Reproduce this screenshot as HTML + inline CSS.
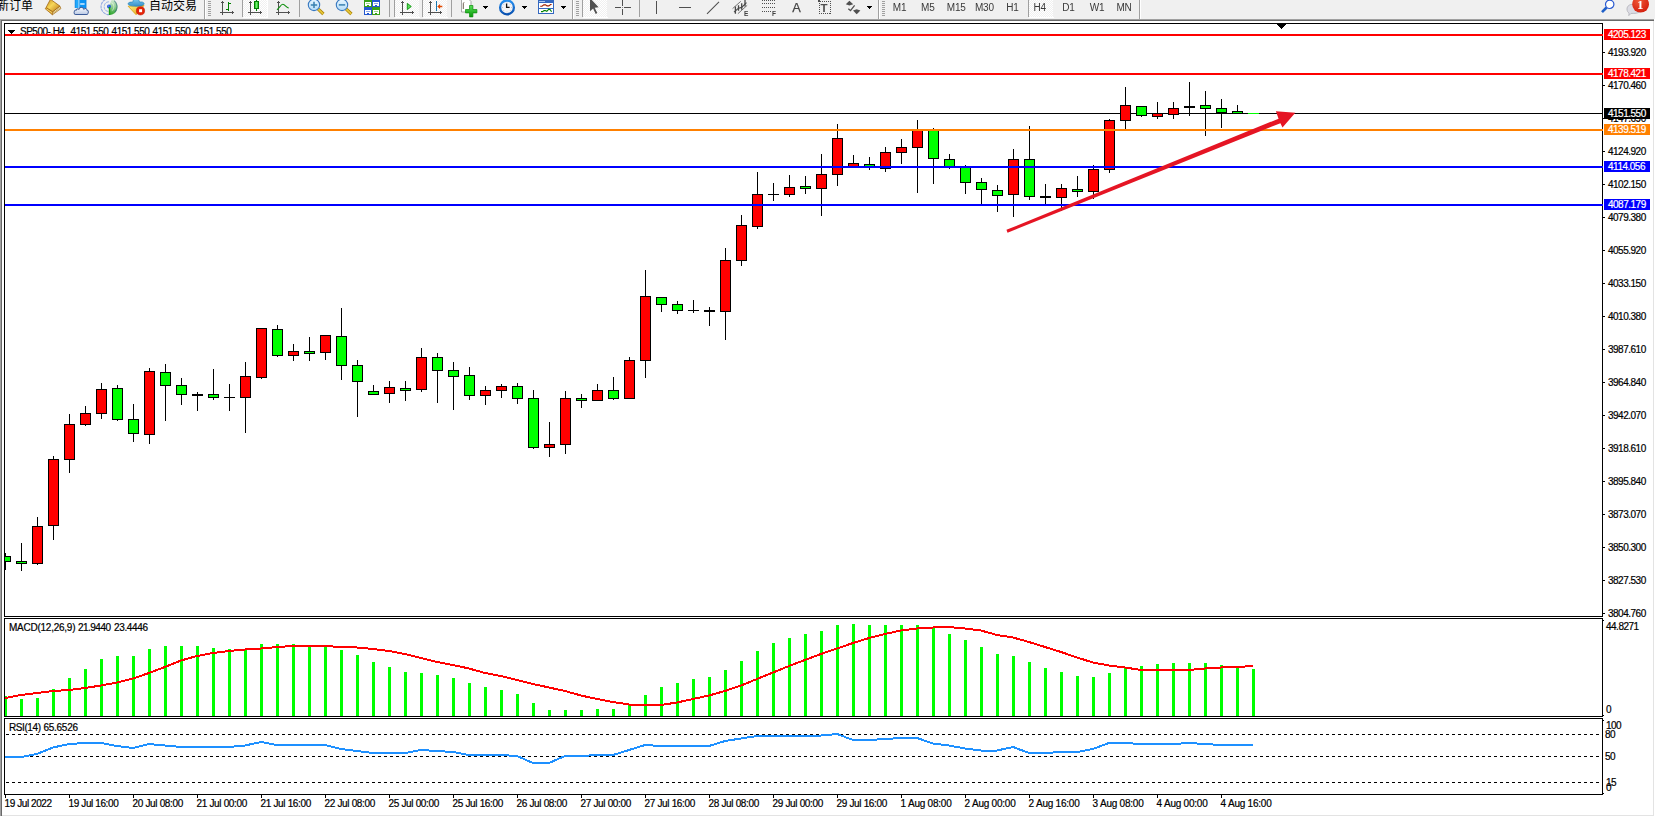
<!DOCTYPE html>
<html lang="zh-CN"><head><meta charset="utf-8"><title>SP500-,H4</title>
<style>
html,body{margin:0;padding:0;background:#fff}
body{width:1655px;height:817px;overflow:hidden;position:relative}
svg{position:absolute;left:0;top:0;display:block}
text{font-family:"Liberation Sans","Noto Sans CJK SC",sans-serif}
.t{font-size:10px;letter-spacing:-0.5px;fill:#000;stroke:#000;stroke-width:.2px}
.w{fill:#fff;stroke:#fff}
.cj{font-size:12px;fill:#000}
.tf{font-size:10px;fill:#3a3a3a;text-anchor:middle;letter-spacing:-0.2px}
</style></head><body>
<svg width="1655" height="817" viewBox="0 0 1655 817">
<rect x="0" y="0" width="1655" height="19" fill="#F0F0F0"/>
<defs>
<pattern id="dz" width="2" height="2" patternUnits="userSpaceOnUse"><rect width="2" height="2" fill="#F0F0F0"/><rect width="1" height="1" fill="#fff"/><rect x="1" y="1" width="1" height="1" fill="#fff"/></pattern>
<linearGradient id="gold" x1="0" y1="0" x2="1" y2="1"><stop offset="0" stop-color="#C89018"/><stop offset=".45" stop-color="#F7D658"/><stop offset="1" stop-color="#B87414"/></linearGradient>
<linearGradient id="cloud" x1="0" y1="0" x2="0" y2="1"><stop offset="0" stop-color="#FFFFFF"/><stop offset="1" stop-color="#B8C8E4"/></linearGradient>
<linearGradient id="lens" x1="0" y1="0" x2="0" y2="1"><stop offset="0" stop-color="#E8F6FF"/><stop offset="1" stop-color="#B4DCF8"/></linearGradient>
<linearGradient id="gplus" x1="0" y1="0" x2="0" y2="1"><stop offset="0" stop-color="#58E058"/><stop offset="1" stop-color="#089808"/></linearGradient>
<linearGradient id="gcan" x1="0" y1="0" x2="1" y2="0"><stop offset="0" stop-color="#20C020"/><stop offset=".5" stop-color="#70F070"/><stop offset="1" stop-color="#20C020"/></linearGradient>
<radialGradient id="badge" cx=".4" cy=".3" r=".8"><stop offset="0" stop-color="#F05838"/><stop offset="1" stop-color="#D01808"/></radialGradient>
<linearGradient id="hat" x1="0" y1="0" x2="0" y2="1"><stop offset="0" stop-color="#78C8F0"/><stop offset="1" stop-color="#3890C8"/></linearGradient>
<linearGradient id="ylw" x1="0" y1="0" x2="1" y2="1"><stop offset="0" stop-color="#FFF080"/><stop offset="1" stop-color="#E0A010"/></linearGradient>
<linearGradient id="clk" x1="0" y1="0" x2="0" y2="1"><stop offset="0" stop-color="#2890F0"/><stop offset="1" stop-color="#0850B0"/></linearGradient>
<g id="grip" shape-rendering="crispEdges" fill="#A0A0A0"><rect y="1" width="3" height="1"/><rect y="3" width="3" height="1"/><rect y="5" width="3" height="1"/><rect y="7" width="3" height="1"/><rect y="9" width="3" height="1"/><rect y="11" width="3" height="1"/><rect y="13" width="3" height="1"/><rect y="15" width="3" height="1"/></g>
<g id="axes" shape-rendering="crispEdges" fill="#505050"><rect x="2" y="2" width="1" height="13"/><rect x="1" y="2" width="3" height="1"/><rect x="2" y="1" width="1" height="1"/><rect x="0" y="12" width="14" height="1"/><rect x="12" y="11" width="1" height="3"/></g>
<g id="dd" shape-rendering="crispEdges" fill="#000"><rect x="0" y="6" width="5" height="1"/><rect x="1" y="7" width="3" height="1"/><rect x="2" y="8" width="1" height="1"/></g>
<filter id="gs" color-interpolation-filters="sRGB"><feColorMatrix type="saturate" values="0"/></filter>
<linearGradient id="rgreen" x1="0" y1="1" x2="0" y2="0"><stop offset="0" stop-color="#2CA42C"/><stop offset=".45" stop-color="#84C884"/><stop offset="1" stop-color="#DCEEDC"/></linearGradient>
</defs>
<!-- text buttons -->
<text x="-3" y="10.1" class="cj">新订单</text>
<text x="148.9" y="9.9" class="cj">自动交易</text>
<!-- book -->
<path d="M45.200 8.700L46.100 7.500L52.700 11.700L52.400 14.800Z" fill="#D8A020" stroke="#A06410" stroke-width=".7"/>
<path d="M52.700 11.700L59.900 6.100L60.900 8.600L52.400 14.800Z" fill="#EFE4B4" stroke="#A06410" stroke-width=".7"/>
<path d="M53 13.200L60.300 7.600" stroke="#B88828" stroke-width=".6"/>
<path d="M50.600 -1L52 .400L59.900 6.100L52.700 11.700L46.100 7.500Z" fill="url(#gold)" stroke="#A06410" stroke-width=".8"/>
<path d="M46.400 8.900L52.300 12.800" stroke="#FFE890" stroke-width=".7"/>
<!-- server + cloud -->
<path d="M75.100 -1h11v9h-11z" fill="#0C94F4"/>
<path d="M75.100 -1h3.700v9h-3.700z" fill="#22A8FA"/>
<path d="M78.900 -1v9" stroke="#D8F0FF" stroke-width=".8"/>
<rect x="80.200" y="3.300" width="4.400" height="1.400" fill="#E4F4FF"/>
<path d="M75.100 -1v9M86.100 -1v9" stroke="#0878D8" stroke-width=".6"/>
<path d="M75.500 14.600C73.400 14.600 72.800 12.600 73.600 11.400C74.200 10.200 75.400 10 75.800 10.200C76 9 77.600 8.600 78.600 9.400C79.200 7.600 81.400 6.800 83 8C83.600 8.400 84 9 84.200 9.400C85.200 8.200 87.400 8.400 87.600 10.200C89 10.400 89.600 12 88.800 13.400C88.400 14.200 87.600 14.600 86.800 14.600Z" fill="url(#cloud)" stroke="#3A5A98" stroke-width="1" transform="translate(81.200 -.300) scale(.900 1.020) translate(-81.200 0)"/>
<!-- radio / signals -->
<path d="M109.050 6.700V15A8.200 8.200 0 0 0 111.850 -1Z" fill="url(#rgreen)"/>
<g fill="none" stroke-width="1.100">
<path d="M109.050 -1.300a8 8 0 0 0 0 16" stroke="#5078D8" stroke-opacity=".6" stroke-dasharray="3 .7"/>
<path d="M109.050 1.800a4.900 4.900 0 0 0 0 9.800" stroke="#6890E0" stroke-opacity=".55" stroke-dasharray="3 .7"/>
<path d="M114.200 .600A8 8 0 0 1 114.700 12.300" stroke="#2C6878" stroke-opacity=".6"/>
<path d="M111.500 2.500A4.900 4.900 0 0 1 112 10.600" stroke="#FFFFFF" stroke-opacity=".45"/>
</g>
<circle cx="109" cy="6.600" r="2" fill="#2458D4"/><circle cx="108.600" cy="6.100" r=".8" fill="#5C8CEC"/>
<path d="M109.500 7V15" stroke="#16A016" stroke-width="1.400"/>
<!-- auto trading -->
<path d="M128.100 6.200L144 5.500L136.100 14.700Z" fill="url(#ylw)" stroke="#D8A010" stroke-width=".8"/>
<path d="M128.100 3.800C128.100 2.200 131 1.900 132.600 2.200C133.200 1 133.400 -.200 133.600 -1h5c.2 .800 .4 2 1 3.100C141.400 1.700 144.100 2.100 144.100 3.700C144.100 5.400 140.500 6.200 136.100 6.200C131.700 6.200 128.100 5.400 128.100 3.800Z" fill="url(#hat)" stroke="#2484BC" stroke-width=".7"/>
<circle cx="140.500" cy="10.800" r="4.100" fill="#E42408" stroke="#C01404" stroke-width=".6"/><rect x="139.100" y="9.200" width="3" height="3" fill="#fff"/>
<g shape-rendering="crispEdges">
<!-- separators -->
<rect x="204" y="0" width="1" height="19" fill="#A0A0A0"/><rect x="205" y="0" width="1" height="19" fill="#fff"/>
<rect x="242" y="0" width="1" height="17" fill="#A0A0A0"/>
<rect x="243" y="0" width="24" height="17" fill="url(#dz)"/><rect x="243" y="17" width="25" height="1" fill="#fff"/><rect x="267" y="0" width="1" height="17" fill="#fff"/>
<rect x="299" y="0" width="1" height="17" fill="#A0A0A0"/>
<rect x="389" y="0" width="1" height="17" fill="#A0A0A0"/><rect x="394" y="0" width="1" height="17" fill="#A0A0A0"/>
<rect x="395" y="0" width="24" height="17" fill="url(#dz)"/><rect x="395" y="17" width="25" height="1" fill="#fff"/>
<rect x="422" y="0" width="1" height="17" fill="#A0A0A0"/>
<rect x="423" y="0" width="24" height="17" fill="url(#dz)"/><rect x="423" y="17" width="25" height="1" fill="#fff"/>
<rect x="451" y="0" width="1" height="17" fill="#A0A0A0"/>
<rect x="572" y="0" width="1" height="19" fill="#A0A0A0"/><rect x="573" y="0" width="1" height="19" fill="#fff"/>
<rect x="582" y="0" width="1" height="17" fill="#A0A0A0"/>
<rect x="583" y="0" width="24" height="17" fill="url(#dz)"/><rect x="583" y="17" width="25" height="1" fill="#fff"/>
<rect x="639" y="0" width="1" height="17" fill="#A0A0A0"/>
<rect x="878" y="0" width="1" height="19" fill="#A0A0A0"/><rect x="879" y="0" width="1" height="19" fill="#fff"/>
<rect x="1028" y="0" width="1" height="17" fill="#A0A0A0"/>
<rect x="1029" y="0" width="24" height="17" fill="url(#dz)"/><rect x="1029" y="17" width="25" height="1" fill="#fff"/>
<rect x="1139" y="0" width="1" height="19" fill="#A0A0A0"/><rect x="1140" y="0" width="1" height="19" fill="#fff"/>
</g>
<use href="#grip" x="208"/><use href="#grip" x="576"/><use href="#grip" x="882"/>
<!-- chart type icons -->
<use href="#axes" x="220"/>
<g shape-rendering="crispEdges" fill="#008000"><rect x="228" y="2" width="1" height="9"/><rect x="229" y="3" width="2" height="1"/><rect x="226" y="9" width="2" height="1"/></g>
<use href="#axes" x="248"/>
<g shape-rendering="crispEdges"><rect x="256" y="0" width="1" height="11" fill="#008000"/><rect x="254" y="1" width="5" height="8" fill="#008000"/><rect x="255" y="2" width="3" height="6" fill="url(#gcan)"/></g>
<use href="#axes" x="276"/>
<path d="M277 9.800C279.500 8 280.800 4.300 282.800 4.300C285 4.300 286.500 8 288.800 8" fill="none" stroke="#109010" stroke-width="1.100"/>
<!-- zoom in/out -->
<path d="M318 8.800l5.400 5.200" stroke="#A88008" stroke-width="3.200"/><path d="M318 8.800l5.200 5" stroke="#E8C838" stroke-width="1.800"/>
<circle cx="314" cy="4.900" r="5.700" fill="url(#lens)" stroke="#3878C0" stroke-width="1.100"/>
<path d="M310.800 4.900h6.400M314 1.700v6.400" stroke="#3880B0" stroke-width="1.500"/>
<path d="M346 8.800l5.400 5.200" stroke="#A88008" stroke-width="3.200"/><path d="M346 8.800l5.200 5" stroke="#E8C838" stroke-width="1.800"/>
<circle cx="342" cy="4.900" r="5.700" fill="url(#lens)" stroke="#3878C0" stroke-width="1.100"/>
<path d="M338.800 4.900h6.400" stroke="#3880B0" stroke-width="1.500"/>
<!-- tile windows -->
<g shape-rendering="crispEdges">
<rect x="364" y="-1" width="8" height="8" fill="#38A018"/><rect x="372" y="-1" width="8" height="8" fill="#2458D0"/>
<rect x="364" y="7" width="8" height="8" fill="#2458D0"/><rect x="372" y="7" width="8" height="8" fill="#38A018"/>
<rect x="365" y="2" width="6" height="4" fill="#fff"/><rect x="373" y="2" width="6" height="4" fill="#fff"/><rect x="365" y="10" width="6" height="4" fill="#fff"/><rect x="373" y="10" width="6" height="4" fill="#fff"/>
<rect x="366" y="3" width="4" height="1" fill="#A0D890"/><rect x="374" y="3" width="4" height="1" fill="#90A8E8"/><rect x="366" y="11" width="4" height="1" fill="#90A8E8"/><rect x="374" y="11" width="4" height="1" fill="#A0D890"/>
<rect x="367" y="5" width="2" height="1" fill="#38A018"/><rect x="375" y="5" width="2" height="1" fill="#2458D0"/><rect x="367" y="13" width="2" height="1" fill="#2458D0"/><rect x="375" y="13" width="2" height="1" fill="#38A018"/>
</g>
<!-- autoscroll / shift -->
<use href="#axes" x="400"/>
<path d="M407.300 3.400L411.300 6.500L407.300 9.600Z" fill="#58E058" stroke="#089008" stroke-width=".9"/>
<use href="#axes" x="428"/>
<rect x="436" y="1" width="1" height="10" fill="#1878B0" shape-rendering="crispEdges"/>
<path d="M437.300 6.500l2.800-2.400v1.700h2.200v1.400h-2.200v1.700z" fill="#E04800"/>
<!-- new chart -->
<path d="M461.500 -1v13h9.500v-10.500l-2.500-2.500z" fill="#fff" stroke="#A0A0A0" stroke-width=".9"/>
<path d="M464.300 2.500c-.8 0-1 .5-1 1.500v5" stroke="#605040" stroke-width=".9" fill="none"/>
<path d="M469.500 5.500h3.400v4h4v3.400h-4v4h-3.400v-4h-4v-3.400h4z" fill="url(#gplus)" stroke="#0C8C0C" stroke-width=".7"/>
<use href="#dd" x="483"/>
<!-- clock -->
<rect x="503.500" y="-1" width="7" height="2.500" rx="1" fill="#2890F0"/>
<circle cx="507" cy="7.400" r="6.900" fill="#F4F4F6" stroke="url(#clk)" stroke-width="2.300"/>
<path d="M506.600 3.600v3.800h3" stroke="#101010" stroke-width="1.300" fill="none"/>
<g fill="#8088A0"><circle cx="507" cy="2.900" r=".45"/><circle cx="511.500" cy="7.400" r=".45"/><circle cx="502.500" cy="7.400" r=".45"/><circle cx="507" cy="11.900" r=".45"/><circle cx="503.800" cy="4.200" r=".4"/><circle cx="510.200" cy="4.200" r=".4"/><circle cx="503.800" cy="10.600" r=".4"/><circle cx="510.200" cy="10.600" r=".4"/></g>
<use href="#dd" x="522"/>
<!-- templates -->
<g shape-rendering="crispEdges"><rect x="538" y="-1" width="16" height="15" fill="#3468C0"/><rect x="539" y="3" width="14" height="5" fill="#fff"/><rect x="539" y="9" width="14" height="4" fill="#fff"/><rect x="539" y="1" width="6" height="1" fill="#A8C8F0"/></g>
<path d="M540.200 6.300h1.800l1.800-1.400h1.800l1.400 1h1.800l1.800-1.400h1" stroke="#A02000" stroke-width="1.100" fill="none"/>
<path d="M541 11.600h1.600l1.400-1h1.400l1.400.8l2-2.200l1.400.6l1.400 2" stroke="#008000" stroke-width="1.100" fill="none"/>
<use href="#dd" x="561"/>
<!-- cursor -->
<path d="M590 -2V11.200L593.100 8.400L595.700 13.900L597.300 13.100L594.700 7.700L598.600 7.300Z" fill="#505050"/>
<!-- crosshair -->
<g shape-rendering="crispEdges" fill="#505050"><rect x="622" y="0" width="1" height="6"/><rect x="622" y="9" width="1" height="6"/><rect x="615" y="7" width="6" height="1"/><rect x="624" y="7" width="7" height="1"/><rect x="622" y="7" width="1" height="1" fill="#909090"/></g>
<!-- vline, hline, trendline -->
<g shape-rendering="crispEdges" fill="#505050"><rect x="656" y="1" width="1" height="13"/><rect x="679" y="7" width="12" height="1"/></g>
<path d="M707 13.800L719 1.900" stroke="#505050" stroke-width="1.100"/>
<!-- channel -->
<g stroke="#484848" fill="none"><path d="M732.600 8.600L740.800 1.300" stroke-width=".9" stroke="#686868"/><path d="M737.900 13.700L747.200 5.300" stroke-width=".9" stroke="#686868"/><path d="M734 12.200L738.500 8.200L741.700 7.400L746.500 2.600" stroke-width="1.100"/><path d="M735.400 6.400v7.400M738.500 5.300v5.400M741.700 3.300v6.400M745 0v6.400" stroke-width="1.300"/></g>
<text filter="url(#gs)" x="744" y="15.500" style="font-size:6.500px;font-weight:bold;fill:#404040">E</text>
<!-- fibo -->
<g stroke="#505050" stroke-width="1" stroke-dasharray="1 1" shape-rendering="crispEdges"><path d="M762 .500h14M762 3.500h14M762 7.500h14M762 11.500h9"/></g>
<text filter="url(#gs)" x="772" y="15.500" style="font-size:6.500px;font-weight:bold;fill:#404040">F</text>
<!-- A, T -->
<text filter="url(#gs)" x="792.300" y="12" style="font-size:12.800px;fill:#444;stroke:#444;stroke-width:.25px">A</text>
<rect x="819.500" y="1.500" width="11" height="12" fill="none" stroke="#505050" stroke-width="1" stroke-dasharray="1 1" shape-rendering="crispEdges"/>
<rect x="818" y="0" width="2" height="2" fill="#505050" shape-rendering="crispEdges"/>
<text filter="url(#gs)" x="820.600" y="12" style="font-size:11.500px;font-weight:bold;fill:#505050">T</text>
<!-- arrows -->
<path d="M849.400 .800L853.200 4.200L849.400 5.600L845.800 4.200Z" fill="#505050"/>
<path d="M848.300 8.800L850.500 10.600L854.600 5.400" fill="none" stroke="#505050" stroke-width="1.300"/>
<path d="M856.700 14.200L853 10.600L856.700 9.200L860.400 10.600Z" fill="#505050"/>
<use href="#dd" x="867"/>
<!-- timeframes -->
<g filter="url(#gs)"><text x="899.500" y="11" class="tf">M1</text><text x="927.800" y="11" class="tf">M5</text><text x="956.300" y="11" class="tf">M15</text><text x="984.400" y="11" class="tf">M30</text><text x="1012.500" y="11" class="tf">H1</text><text x="1039.700" y="11" class="tf">H4</text><text x="1068.400" y="11" class="tf">D1</text><text x="1097" y="11" class="tf">W1</text><text x="1124" y="11" class="tf">MN</text></g>
<!-- search -->
<path d="M1606.600 7.500L1602 12.200" stroke="#2060C8" stroke-width="2.600"/>
<circle cx="1609.700" cy="4.300" r="4.200" fill="#fff" stroke="#2858D0" stroke-width="1.200"/>
<!-- chat + badge -->
<path d="M1627 9c0-3 2.500-4.800 6.500-4.800h7v6c0 2-3 3.200-7 3.200h-2.500l-2.200 2.200l.3-2.600c-1.400-.8-2.100-2-2.100-4z" fill="#DCDCE4" stroke="#B0B0B8" stroke-width=".8"/>
<circle cx="1640.600" cy="4.200" r="8.400" fill="url(#badge)"/>
<text filter="url(#gs)" x="1636.900" y="9" style="font-family:'Liberation Serif',serif;font-size:13px;font-weight:bold;fill:#fff">1</text>

<g shape-rendering="crispEdges">
<rect x="0" y="19" width="1654" height="1" fill="#A0A0A0"/>
<rect x="0" y="20" width="1654" height="1" fill="#696969"/>
<rect x="0" y="19" width="1" height="797" fill="#A0A0A0"/>
<rect x="1" y="20" width="1" height="796" fill="#696969"/>
<rect x="2" y="815" width="1652" height="1" fill="#E3E3E3"/>
<rect x="1653" y="21" width="1" height="795" fill="#E3E3E3"/>
<rect x="4" y="23" width="1599" height="1" fill="#000"/>
<rect x="4" y="23" width="1" height="772" fill="#000"/>
<rect x="1602" y="23" width="1" height="772" fill="#000"/>
<rect x="4" y="616" width="1599" height="1" fill="#000"/>
<rect x="4" y="618" width="1599" height="1" fill="#000"/>
<rect x="4" y="716" width="1599" height="1" fill="#000"/>
<rect x="4" y="718" width="1599" height="1" fill="#000"/>
<rect x="4" y="794" width="1599" height="1" fill="#000"/>
<rect x="5" y="617" width="1597" height="1" fill="#fff"/>
<rect x="5" y="717" width="1597" height="1" fill="#fff"/>
<rect x="1602" y="617" width="1" height="1" fill="#fff"/>
<rect x="1602" y="717" width="1" height="1" fill="#fff"/>
<rect x="4" y="617" width="1" height="1" fill="#fff"/>
<rect x="4" y="717" width="1" height="1" fill="#fff"/>
<rect x="1603" y="52" width="2" height="1" fill="#000"/>
<rect x="1603" y="85" width="2" height="1" fill="#000"/>
<rect x="1603" y="118" width="2" height="1" fill="#000"/>
<rect x="1603" y="151" width="2" height="1" fill="#000"/>
<rect x="1603" y="184" width="2" height="1" fill="#000"/>
<rect x="1603" y="217" width="2" height="1" fill="#000"/>
<rect x="1603" y="250" width="2" height="1" fill="#000"/>
<rect x="1603" y="283" width="2" height="1" fill="#000"/>
<rect x="1603" y="316" width="2" height="1" fill="#000"/>
<rect x="1603" y="349" width="2" height="1" fill="#000"/>
<rect x="1603" y="382" width="2" height="1" fill="#000"/>
<rect x="1603" y="415" width="2" height="1" fill="#000"/>
<rect x="1603" y="448" width="2" height="1" fill="#000"/>
<rect x="1603" y="481" width="2" height="1" fill="#000"/>
<rect x="1603" y="514" width="2" height="1" fill="#000"/>
<rect x="1603" y="547" width="2" height="1" fill="#000"/>
<rect x="1603" y="580" width="2" height="1" fill="#000"/>
<rect x="1603" y="613" width="2" height="1" fill="#000"/>
<rect x="1603" y="620" width="1" height="1" fill="#000"/>
<rect x="1603" y="715" width="1" height="1" fill="#000"/>
<rect x="1603" y="720" width="1" height="1" fill="#000"/>
<rect x="1603" y="793" width="1" height="1" fill="#000"/>
<rect x="5" y="795" width="1" height="3" fill="#000"/>
<rect x="69" y="795" width="1" height="3" fill="#000"/>
<rect x="133" y="795" width="1" height="3" fill="#000"/>
<rect x="197" y="795" width="1" height="3" fill="#000"/>
<rect x="261" y="795" width="1" height="3" fill="#000"/>
<rect x="325" y="795" width="1" height="3" fill="#000"/>
<rect x="389" y="795" width="1" height="3" fill="#000"/>
<rect x="453" y="795" width="1" height="3" fill="#000"/>
<rect x="517" y="795" width="1" height="3" fill="#000"/>
<rect x="581" y="795" width="1" height="3" fill="#000"/>
<rect x="645" y="795" width="1" height="3" fill="#000"/>
<rect x="709" y="795" width="1" height="3" fill="#000"/>
<rect x="773" y="795" width="1" height="3" fill="#000"/>
<rect x="837" y="795" width="1" height="3" fill="#000"/>
<rect x="901" y="795" width="1" height="3" fill="#000"/>
<rect x="965" y="795" width="1" height="3" fill="#000"/>
<rect x="1029" y="795" width="1" height="3" fill="#000"/>
<rect x="1093" y="795" width="1" height="3" fill="#000"/>
<rect x="1157" y="795" width="1" height="3" fill="#000"/>
<rect x="1221" y="795" width="1" height="3" fill="#000"/>
<rect x="5" y="113" width="1597" height="1" fill="#000"/>
</g>
<path d="M8 30h7l-3.5 4z" fill="#000" shape-rendering="crispEdges"/>
<clipPath id="tc"><rect x="5" y="24" width="400" height="11"/></clipPath>
<text y="35.3" class="t" clip-path="url(#tc)"><tspan x="20">SP500-,H4</tspan> <tspan x="70.6">4151.550</tspan> <tspan x="111.6">4151.550</tspan> <tspan x="152.6">4151.550</tspan> <tspan x="193.6">4151.550</tspan></text>
<g shape-rendering="crispEdges">
<rect x="5" y="553" width="1" height="17" fill="#000"/>
<rect x="5" y="556" width="6" height="6" fill="#000"/>
<rect x="5" y="557" width="5" height="4" fill="#00FF00"/>
<rect x="21" y="543" width="1" height="28" fill="#000"/>
<rect x="16" y="561" width="11" height="3" fill="#000"/>
<rect x="17" y="562" width="9" height="1" fill="#00FF00"/>
<rect x="37" y="517" width="1" height="48" fill="#000"/>
<rect x="32" y="526" width="11" height="38" fill="#000"/>
<rect x="33" y="527" width="9" height="36" fill="#FF0000"/>
<rect x="53" y="456" width="1" height="84" fill="#000"/>
<rect x="48" y="459" width="11" height="67" fill="#000"/>
<rect x="49" y="460" width="9" height="65" fill="#FF0000"/>
<rect x="69" y="414" width="1" height="59" fill="#000"/>
<rect x="64" y="424" width="11" height="36" fill="#000"/>
<rect x="65" y="425" width="9" height="34" fill="#FF0000"/>
<rect x="85" y="406" width="1" height="20" fill="#000"/>
<rect x="80" y="413" width="11" height="12" fill="#000"/>
<rect x="81" y="414" width="9" height="10" fill="#FF0000"/>
<rect x="101" y="383" width="1" height="36" fill="#000"/>
<rect x="96" y="389" width="11" height="25" fill="#000"/>
<rect x="97" y="390" width="9" height="23" fill="#FF0000"/>
<rect x="117" y="385" width="1" height="36" fill="#000"/>
<rect x="112" y="388" width="11" height="32" fill="#000"/>
<rect x="113" y="389" width="9" height="30" fill="#00FF00"/>
<rect x="133" y="404" width="1" height="38" fill="#000"/>
<rect x="128" y="419" width="11" height="15" fill="#000"/>
<rect x="129" y="420" width="9" height="13" fill="#00FF00"/>
<rect x="149" y="368" width="1" height="76" fill="#000"/>
<rect x="144" y="371" width="11" height="64" fill="#000"/>
<rect x="145" y="372" width="9" height="62" fill="#FF0000"/>
<rect x="165" y="364" width="1" height="57" fill="#000"/>
<rect x="160" y="372" width="11" height="14" fill="#000"/>
<rect x="161" y="373" width="9" height="12" fill="#00FF00"/>
<rect x="181" y="378" width="1" height="27" fill="#000"/>
<rect x="176" y="385" width="11" height="10" fill="#000"/>
<rect x="177" y="386" width="9" height="8" fill="#00FF00"/>
<rect x="197" y="392" width="1" height="19" fill="#000"/>
<rect x="192" y="394" width="11" height="2" fill="#000"/>
<rect x="213" y="369" width="1" height="31" fill="#000"/>
<rect x="208" y="394" width="11" height="4" fill="#000"/>
<rect x="209" y="395" width="9" height="2" fill="#00FF00"/>
<rect x="229" y="384" width="1" height="27" fill="#000"/>
<rect x="224" y="397" width="11" height="1" fill="#000"/>
<rect x="245" y="362" width="1" height="71" fill="#000"/>
<rect x="240" y="376" width="11" height="22" fill="#000"/>
<rect x="241" y="377" width="9" height="20" fill="#FF0000"/>
<rect x="261" y="328" width="1" height="51" fill="#000"/>
<rect x="256" y="328" width="11" height="50" fill="#000"/>
<rect x="257" y="329" width="9" height="48" fill="#FF0000"/>
<rect x="277" y="325" width="1" height="32" fill="#000"/>
<rect x="272" y="329" width="11" height="27" fill="#000"/>
<rect x="273" y="330" width="9" height="25" fill="#00FF00"/>
<rect x="293" y="344" width="1" height="17" fill="#000"/>
<rect x="288" y="351" width="11" height="5" fill="#000"/>
<rect x="289" y="352" width="9" height="3" fill="#FF0000"/>
<rect x="309" y="337" width="1" height="24" fill="#000"/>
<rect x="304" y="351" width="11" height="3" fill="#000"/>
<rect x="305" y="352" width="9" height="1" fill="#00FF00"/>
<rect x="325" y="335" width="1" height="25" fill="#000"/>
<rect x="320" y="335" width="11" height="18" fill="#000"/>
<rect x="321" y="336" width="9" height="16" fill="#FF0000"/>
<rect x="341" y="308" width="1" height="72" fill="#000"/>
<rect x="336" y="336" width="11" height="30" fill="#000"/>
<rect x="337" y="337" width="9" height="28" fill="#00FF00"/>
<rect x="357" y="360" width="1" height="57" fill="#000"/>
<rect x="352" y="365" width="11" height="17" fill="#000"/>
<rect x="353" y="366" width="9" height="15" fill="#00FF00"/>
<rect x="373" y="385" width="1" height="10" fill="#000"/>
<rect x="368" y="391" width="11" height="4" fill="#000"/>
<rect x="369" y="392" width="9" height="2" fill="#00FF00"/>
<rect x="389" y="381" width="1" height="22" fill="#000"/>
<rect x="384" y="387" width="11" height="7" fill="#000"/>
<rect x="385" y="388" width="9" height="5" fill="#FF0000"/>
<rect x="405" y="381" width="1" height="20" fill="#000"/>
<rect x="400" y="388" width="11" height="3" fill="#000"/>
<rect x="401" y="389" width="9" height="1" fill="#00FF00"/>
<rect x="421" y="348" width="1" height="44" fill="#000"/>
<rect x="416" y="357" width="11" height="33" fill="#000"/>
<rect x="417" y="358" width="9" height="31" fill="#FF0000"/>
<rect x="437" y="353" width="1" height="50" fill="#000"/>
<rect x="432" y="357" width="11" height="14" fill="#000"/>
<rect x="433" y="358" width="9" height="12" fill="#00FF00"/>
<rect x="453" y="362" width="1" height="48" fill="#000"/>
<rect x="448" y="370" width="11" height="7" fill="#000"/>
<rect x="449" y="371" width="9" height="5" fill="#00FF00"/>
<rect x="469" y="367" width="1" height="33" fill="#000"/>
<rect x="464" y="375" width="11" height="21" fill="#000"/>
<rect x="465" y="376" width="9" height="19" fill="#00FF00"/>
<rect x="485" y="386" width="1" height="19" fill="#000"/>
<rect x="480" y="390" width="11" height="6" fill="#000"/>
<rect x="481" y="391" width="9" height="4" fill="#FF0000"/>
<rect x="501" y="384" width="1" height="14" fill="#000"/>
<rect x="496" y="386" width="11" height="5" fill="#000"/>
<rect x="497" y="387" width="9" height="3" fill="#FF0000"/>
<rect x="517" y="383" width="1" height="21" fill="#000"/>
<rect x="512" y="386" width="11" height="13" fill="#000"/>
<rect x="513" y="387" width="9" height="11" fill="#00FF00"/>
<rect x="533" y="390" width="1" height="59" fill="#000"/>
<rect x="528" y="398" width="11" height="50" fill="#000"/>
<rect x="529" y="399" width="9" height="48" fill="#00FF00"/>
<rect x="549" y="422" width="1" height="35" fill="#000"/>
<rect x="544" y="444" width="11" height="4" fill="#000"/>
<rect x="545" y="445" width="9" height="2" fill="#FF0000"/>
<rect x="565" y="391" width="1" height="63" fill="#000"/>
<rect x="560" y="398" width="11" height="47" fill="#000"/>
<rect x="561" y="399" width="9" height="45" fill="#FF0000"/>
<rect x="581" y="394" width="1" height="14" fill="#000"/>
<rect x="576" y="398" width="11" height="3" fill="#000"/>
<rect x="577" y="399" width="9" height="1" fill="#00FF00"/>
<rect x="597" y="384" width="1" height="17" fill="#000"/>
<rect x="592" y="390" width="11" height="11" fill="#000"/>
<rect x="593" y="391" width="9" height="9" fill="#FF0000"/>
<rect x="613" y="377" width="1" height="23" fill="#000"/>
<rect x="608" y="390" width="11" height="9" fill="#000"/>
<rect x="609" y="391" width="9" height="7" fill="#00FF00"/>
<rect x="629" y="357" width="1" height="42" fill="#000"/>
<rect x="624" y="360" width="11" height="39" fill="#000"/>
<rect x="625" y="361" width="9" height="37" fill="#FF0000"/>
<rect x="645" y="270" width="1" height="108" fill="#000"/>
<rect x="640" y="296" width="11" height="65" fill="#000"/>
<rect x="641" y="297" width="9" height="63" fill="#FF0000"/>
<rect x="661" y="297" width="1" height="15" fill="#000"/>
<rect x="656" y="297" width="11" height="8" fill="#000"/>
<rect x="657" y="298" width="9" height="6" fill="#00FF00"/>
<rect x="677" y="301" width="1" height="13" fill="#000"/>
<rect x="672" y="304" width="11" height="7" fill="#000"/>
<rect x="673" y="305" width="9" height="5" fill="#00FF00"/>
<rect x="693" y="300" width="1" height="13" fill="#000"/>
<rect x="688" y="310" width="11" height="1" fill="#000"/>
<rect x="709" y="307" width="1" height="19" fill="#000"/>
<rect x="704" y="310" width="11" height="2" fill="#000"/>
<rect x="725" y="248" width="1" height="92" fill="#000"/>
<rect x="720" y="260" width="11" height="52" fill="#000"/>
<rect x="721" y="261" width="9" height="50" fill="#FF0000"/>
<rect x="741" y="215" width="1" height="51" fill="#000"/>
<rect x="736" y="225" width="11" height="36" fill="#000"/>
<rect x="737" y="226" width="9" height="34" fill="#FF0000"/>
<rect x="757" y="172" width="1" height="57" fill="#000"/>
<rect x="752" y="194" width="11" height="33" fill="#000"/>
<rect x="753" y="195" width="9" height="31" fill="#FF0000"/>
<rect x="773" y="183" width="1" height="18" fill="#000"/>
<rect x="768" y="194" width="11" height="1" fill="#000"/>
<rect x="789" y="175" width="1" height="22" fill="#000"/>
<rect x="784" y="187" width="11" height="8" fill="#000"/>
<rect x="785" y="188" width="9" height="6" fill="#FF0000"/>
<rect x="805" y="176" width="1" height="18" fill="#000"/>
<rect x="800" y="186" width="11" height="3" fill="#000"/>
<rect x="801" y="187" width="9" height="1" fill="#00FF00"/>
<rect x="821" y="154" width="1" height="62" fill="#000"/>
<rect x="816" y="174" width="11" height="15" fill="#000"/>
<rect x="817" y="175" width="9" height="13" fill="#FF0000"/>
<rect x="837" y="124" width="1" height="62" fill="#000"/>
<rect x="832" y="138" width="11" height="37" fill="#000"/>
<rect x="833" y="139" width="9" height="35" fill="#FF0000"/>
<rect x="853" y="155" width="1" height="12" fill="#000"/>
<rect x="848" y="163" width="11" height="4" fill="#000"/>
<rect x="849" y="164" width="9" height="2" fill="#FF0000"/>
<rect x="869" y="157" width="1" height="13" fill="#000"/>
<rect x="864" y="164" width="11" height="3" fill="#000"/>
<rect x="865" y="165" width="9" height="1" fill="#00FF00"/>
<rect x="885" y="147" width="1" height="25" fill="#000"/>
<rect x="880" y="152" width="11" height="17" fill="#000"/>
<rect x="881" y="153" width="9" height="15" fill="#FF0000"/>
<rect x="901" y="139" width="1" height="25" fill="#000"/>
<rect x="896" y="147" width="11" height="6" fill="#000"/>
<rect x="897" y="148" width="9" height="4" fill="#FF0000"/>
<rect x="917" y="120" width="1" height="73" fill="#000"/>
<rect x="912" y="129" width="11" height="19" fill="#000"/>
<rect x="913" y="130" width="9" height="17" fill="#FF0000"/>
<rect x="933" y="128" width="1" height="56" fill="#000"/>
<rect x="928" y="129" width="11" height="30" fill="#000"/>
<rect x="929" y="130" width="9" height="28" fill="#00FF00"/>
<rect x="949" y="154" width="1" height="15" fill="#000"/>
<rect x="944" y="159" width="11" height="9" fill="#000"/>
<rect x="945" y="160" width="9" height="7" fill="#00FF00"/>
<rect x="965" y="165" width="1" height="29" fill="#000"/>
<rect x="960" y="167" width="11" height="16" fill="#000"/>
<rect x="961" y="168" width="9" height="14" fill="#00FF00"/>
<rect x="981" y="178" width="1" height="26" fill="#000"/>
<rect x="976" y="182" width="11" height="8" fill="#000"/>
<rect x="977" y="183" width="9" height="6" fill="#00FF00"/>
<rect x="997" y="185" width="1" height="27" fill="#000"/>
<rect x="992" y="190" width="11" height="6" fill="#000"/>
<rect x="993" y="191" width="9" height="4" fill="#00FF00"/>
<rect x="1013" y="149" width="1" height="68" fill="#000"/>
<rect x="1008" y="159" width="11" height="36" fill="#000"/>
<rect x="1009" y="160" width="9" height="34" fill="#FF0000"/>
<rect x="1029" y="126" width="1" height="74" fill="#000"/>
<rect x="1024" y="159" width="11" height="38" fill="#000"/>
<rect x="1025" y="160" width="9" height="36" fill="#00FF00"/>
<rect x="1045" y="184" width="1" height="21" fill="#000"/>
<rect x="1040" y="196" width="11" height="2" fill="#000"/>
<rect x="1061" y="184" width="1" height="27" fill="#000"/>
<rect x="1056" y="188" width="11" height="10" fill="#000"/>
<rect x="1057" y="189" width="9" height="8" fill="#FF0000"/>
<rect x="1077" y="176" width="1" height="21" fill="#000"/>
<rect x="1072" y="189" width="11" height="3" fill="#000"/>
<rect x="1073" y="190" width="9" height="1" fill="#00FF00"/>
<rect x="1093" y="165" width="1" height="34" fill="#000"/>
<rect x="1088" y="169" width="11" height="23" fill="#000"/>
<rect x="1089" y="170" width="9" height="21" fill="#FF0000"/>
<rect x="1109" y="119" width="1" height="54" fill="#000"/>
<rect x="1104" y="120" width="11" height="50" fill="#000"/>
<rect x="1105" y="121" width="9" height="48" fill="#FF0000"/>
<rect x="1125" y="87" width="1" height="42" fill="#000"/>
<rect x="1120" y="105" width="11" height="16" fill="#000"/>
<rect x="1121" y="106" width="9" height="14" fill="#FF0000"/>
<rect x="1141" y="106" width="1" height="11" fill="#000"/>
<rect x="1136" y="106" width="11" height="10" fill="#000"/>
<rect x="1137" y="107" width="9" height="8" fill="#00FF00"/>
<rect x="1157" y="102" width="1" height="17" fill="#000"/>
<rect x="1152" y="113" width="11" height="4" fill="#000"/>
<rect x="1153" y="114" width="9" height="2" fill="#FF0000"/>
<rect x="1173" y="102" width="1" height="17" fill="#000"/>
<rect x="1168" y="108" width="11" height="7" fill="#000"/>
<rect x="1169" y="109" width="9" height="5" fill="#FF0000"/>
<rect x="1189" y="82" width="1" height="34" fill="#000"/>
<rect x="1184" y="106" width="11" height="2" fill="#000"/>
<rect x="1205" y="91" width="1" height="45" fill="#000"/>
<rect x="1200" y="105" width="11" height="4" fill="#000"/>
<rect x="1201" y="106" width="9" height="2" fill="#00FF00"/>
<rect x="1221" y="99" width="1" height="29" fill="#000"/>
<rect x="1216" y="108" width="11" height="5" fill="#000"/>
<rect x="1217" y="109" width="9" height="3" fill="#00FF00"/>
<rect x="1237" y="105" width="1" height="9" fill="#000"/>
<rect x="1232" y="111" width="11" height="3" fill="#000"/>
<rect x="1233" y="112" width="9" height="1" fill="#00FF00"/>
<rect x="1248" y="113" width="11" height="1" fill="#00FF00"/>
<rect x="5" y="696" width="2" height="20" fill="#00FF00"/>
<rect x="20" y="699" width="3" height="17" fill="#00FF00"/>
<rect x="36" y="698" width="3" height="18" fill="#00FF00"/>
<rect x="52" y="689" width="3" height="27" fill="#00FF00"/>
<rect x="68" y="678" width="3" height="38" fill="#00FF00"/>
<rect x="84" y="669" width="3" height="47" fill="#00FF00"/>
<rect x="100" y="659" width="3" height="57" fill="#00FF00"/>
<rect x="116" y="656" width="3" height="60" fill="#00FF00"/>
<rect x="132" y="656" width="3" height="60" fill="#00FF00"/>
<rect x="148" y="649" width="3" height="67" fill="#00FF00"/>
<rect x="164" y="646" width="3" height="70" fill="#00FF00"/>
<rect x="180" y="646" width="3" height="70" fill="#00FF00"/>
<rect x="196" y="646" width="3" height="70" fill="#00FF00"/>
<rect x="212" y="648" width="3" height="68" fill="#00FF00"/>
<rect x="228" y="649" width="3" height="67" fill="#00FF00"/>
<rect x="244" y="650" width="3" height="66" fill="#00FF00"/>
<rect x="260" y="644" width="3" height="72" fill="#00FF00"/>
<rect x="276" y="644" width="3" height="72" fill="#00FF00"/>
<rect x="292" y="644" width="3" height="72" fill="#00FF00"/>
<rect x="308" y="646" width="3" height="70" fill="#00FF00"/>
<rect x="324" y="646" width="3" height="70" fill="#00FF00"/>
<rect x="340" y="650" width="3" height="66" fill="#00FF00"/>
<rect x="356" y="655" width="3" height="61" fill="#00FF00"/>
<rect x="372" y="662" width="3" height="54" fill="#00FF00"/>
<rect x="388" y="667" width="3" height="49" fill="#00FF00"/>
<rect x="404" y="672" width="3" height="44" fill="#00FF00"/>
<rect x="420" y="673" width="3" height="43" fill="#00FF00"/>
<rect x="436" y="675" width="3" height="41" fill="#00FF00"/>
<rect x="452" y="678" width="3" height="38" fill="#00FF00"/>
<rect x="468" y="683" width="3" height="33" fill="#00FF00"/>
<rect x="484" y="687" width="3" height="29" fill="#00FF00"/>
<rect x="500" y="690" width="3" height="26" fill="#00FF00"/>
<rect x="516" y="694" width="3" height="22" fill="#00FF00"/>
<rect x="532" y="703" width="3" height="13" fill="#00FF00"/>
<rect x="548" y="710" width="3" height="6" fill="#00FF00"/>
<rect x="564" y="710" width="3" height="6" fill="#00FF00"/>
<rect x="580" y="710" width="3" height="6" fill="#00FF00"/>
<rect x="596" y="709" width="3" height="7" fill="#00FF00"/>
<rect x="612" y="709" width="3" height="7" fill="#00FF00"/>
<rect x="628" y="704" width="3" height="12" fill="#00FF00"/>
<rect x="644" y="695" width="3" height="21" fill="#00FF00"/>
<rect x="660" y="687" width="3" height="29" fill="#00FF00"/>
<rect x="676" y="683" width="3" height="33" fill="#00FF00"/>
<rect x="692" y="679" width="3" height="37" fill="#00FF00"/>
<rect x="708" y="677" width="3" height="39" fill="#00FF00"/>
<rect x="724" y="670" width="3" height="46" fill="#00FF00"/>
<rect x="740" y="661" width="3" height="55" fill="#00FF00"/>
<rect x="756" y="651" width="3" height="65" fill="#00FF00"/>
<rect x="772" y="643" width="3" height="73" fill="#00FF00"/>
<rect x="788" y="638" width="3" height="78" fill="#00FF00"/>
<rect x="804" y="634" width="3" height="82" fill="#00FF00"/>
<rect x="820" y="631" width="3" height="85" fill="#00FF00"/>
<rect x="836" y="625" width="3" height="91" fill="#00FF00"/>
<rect x="852" y="624" width="3" height="92" fill="#00FF00"/>
<rect x="868" y="625" width="3" height="91" fill="#00FF00"/>
<rect x="884" y="625" width="3" height="91" fill="#00FF00"/>
<rect x="900" y="625" width="3" height="91" fill="#00FF00"/>
<rect x="916" y="625" width="3" height="91" fill="#00FF00"/>
<rect x="932" y="627" width="3" height="89" fill="#00FF00"/>
<rect x="948" y="634" width="3" height="82" fill="#00FF00"/>
<rect x="964" y="640" width="3" height="76" fill="#00FF00"/>
<rect x="980" y="647" width="3" height="69" fill="#00FF00"/>
<rect x="996" y="654" width="3" height="62" fill="#00FF00"/>
<rect x="1012" y="656" width="3" height="60" fill="#00FF00"/>
<rect x="1028" y="662" width="3" height="54" fill="#00FF00"/>
<rect x="1044" y="668" width="3" height="48" fill="#00FF00"/>
<rect x="1060" y="672" width="3" height="44" fill="#00FF00"/>
<rect x="1076" y="676" width="3" height="40" fill="#00FF00"/>
<rect x="1092" y="677" width="3" height="39" fill="#00FF00"/>
<rect x="1108" y="673" width="3" height="43" fill="#00FF00"/>
<rect x="1124" y="668" width="3" height="48" fill="#00FF00"/>
<rect x="1140" y="666" width="3" height="50" fill="#00FF00"/>
<rect x="1156" y="664" width="3" height="52" fill="#00FF00"/>
<rect x="1172" y="663" width="3" height="53" fill="#00FF00"/>
<rect x="1188" y="663" width="3" height="53" fill="#00FF00"/>
<rect x="1204" y="663" width="3" height="53" fill="#00FF00"/>
<rect x="1220" y="665" width="3" height="51" fill="#00FF00"/>
<rect x="1236" y="666" width="3" height="50" fill="#00FF00"/>
<rect x="1252" y="669" width="3" height="47" fill="#00FF00"/>
<polyline points="5,698 21,695 37,693 53,691 69,690 85,688 101,685.5 117,682.5 133,678.5 149,673 165,667 181,660.5 197,656 213,653 229,651 245,649.5 261,648.5 277,647 293,646 309,646 325,646 341,647 357,647.5 373,649 389,651 405,654 421,658 437,662 453,665 469,668.5 485,673 501,676 517,680 533,684 549,687.5 565,691 581,695.5 597,699 613,702 629,704.5 645,705 661,705 677,702.5 693,699 709,695.5 725,691 741,685.5 757,679 773,672.5 789,666 805,660 821,654 837,648.5 853,643 869,638 885,634 901,630.5 917,628.5 933,627.5 949,627 965,628.5 981,630.5 997,635 1013,637.5 1029,642 1045,647 1061,652 1077,657.5 1093,662.5 1109,665.5 1125,667.5 1141,670 1157,670 1173,670 1189,670 1205,668.5 1221,667.5 1237,667 1253,666" fill="none" stroke="#FF0000" stroke-width="2" stroke-linejoin="round"/>
<line x1="6" y1="734.5" x2="1601" y2="734.5" stroke="#000" stroke-width="1" stroke-dasharray="3 3"/>
<line x1="6" y1="756.5" x2="1601" y2="756.5" stroke="#000" stroke-width="1" stroke-dasharray="3 3"/>
<line x1="6" y1="782.5" x2="1601" y2="782.5" stroke="#000" stroke-width="1" stroke-dasharray="3 3"/>
<polyline points="5,757 21,757 37,754 53,747.5 69,744 85,743 101,743 117,746 133,748 149,744 165,745.5 181,747 197,747 213,747 229,747 245,745.5 261,742 277,745 293,745 309,745 325,745 341,749 357,751 373,753 389,753 405,753 421,750 437,751 453,752 469,755 485,755 501,755 517,756 533,763 549,763 565,756 581,756 597,755 613,755 629,750 645,745 661,746 677,746 693,746 709,746 725,741 741,738.5 757,736 773,735.5 789,735.5 805,735.5 821,735.5 837,734 853,740 869,740 885,739 901,738 917,738 933,743.5 949,745.5 965,748.5 981,750.5 997,750.5 1013,747 1029,753 1045,753 1061,752 1077,752 1093,749 1109,743 1125,743 1141,744 1157,744 1173,744 1189,743 1205,744 1221,745 1237,745 1253,745" fill="none" stroke="#1E90FF" stroke-width="2" stroke-linejoin="round"/>
<rect x="5" y="34" width="1598" height="2" fill="#FF0000"/>
<rect x="5" y="73" width="1598" height="2" fill="#FF0000"/>
<rect x="5" y="129" width="1598" height="2" fill="#FF8000"/>
<rect x="5" y="166" width="1598" height="2" fill="#0000FF"/>
<rect x="5" y="204" width="1598" height="2" fill="#0000FF"/>
<rect x="1604" y="29" width="46" height="11" fill="#FF0000"/>
<rect x="1604" y="68" width="46" height="11" fill="#FF0000"/>
<rect x="1604" y="124" width="46" height="11" fill="#FF8000"/>
<rect x="1604" y="161" width="46" height="11" fill="#0000FF"/>
<rect x="1604" y="199" width="46" height="11" fill="#0000FF"/>
</g>
<g shape-rendering="crispEdges" fill="#000"><rect x="1277" y="24" width="9" height="1"/><rect x="1278" y="25" width="7" height="1"/><rect x="1279" y="26" width="5" height="1"/><rect x="1280" y="27" width="3" height="1"/><rect x="1281" y="28" width="1" height="1"/></g>
<path d="M1006.44 229.86L1278.58 118.63L1275.9 111.25L1295.3 112.8L1282.5 127.5L1280.42 123.17L1007.56 232.64Z" fill="#E51524"/>
<text x="1608" y="56" class="t">4193.920</text>
<text x="1608" y="89" class="t">4170.460</text>
<text x="1608" y="122" class="t">4147.690</text>
<text x="1608" y="155" class="t">4124.920</text>
<text x="1608" y="188" class="t">4102.150</text>
<text x="1608" y="221" class="t">4079.380</text>
<text x="1608" y="254" class="t">4055.920</text>
<text x="1608" y="287" class="t">4033.150</text>
<text x="1608" y="320" class="t">4010.380</text>
<text x="1608" y="353" class="t">3987.610</text>
<text x="1608" y="386" class="t">3964.840</text>
<text x="1608" y="419" class="t">3942.070</text>
<text x="1608" y="452" class="t">3918.610</text>
<text x="1608" y="485" class="t">3895.840</text>
<text x="1608" y="518" class="t">3873.070</text>
<text x="1608" y="551" class="t">3850.300</text>
<text x="1608" y="584" class="t">3827.530</text>
<text x="1608" y="617" class="t">3804.760</text>
<rect x="1604" y="108" width="46" height="11" fill="#000" shape-rendering="crispEdges"/>
<text x="1608" y="38" class="t w">4205.123</text>
<text x="1608" y="77" class="t w">4178.421</text>
<text x="1608" y="117" class="t w">4151.550</text>
<text x="1608" y="133" class="t w">4139.519</text>
<text x="1608" y="170" class="t w">4114.056</text>
<text x="1608" y="208" class="t w">4087.179</text>
<text x="1606" y="630" class="t">44.8271</text>
<text x="1606" y="713" class="t">0</text>
<text x="1606" y="729" class="t">100</text>
<text x="1605" y="738" class="t">80</text>
<text x="1605" y="760" class="t">50</text>
<text x="1606" y="786" class="t">15</text>
<text x="1606" y="791" class="t">0</text>
<text y="631" class="t"><tspan x="9" textLength="66">MACD(12,26,9)</tspan> <tspan x="78" textLength="32.5">21.9440</tspan> <tspan x="114" textLength="33.5">23.4446</tspan></text>
<text y="731" class="t"><tspan x="9" textLength="31.5">RSI(14)</tspan> <tspan x="43.5" textLength="34">65.6526</tspan></text>
<text x="4.6" y="807" class="t" textLength="46.9">19 Jul 2022</text>
<text x="68.6" y="807" class="t" textLength="49.6">19 Jul 16:00</text>
<text x="132.6" y="807" class="t" textLength="50.2">20 Jul 08:00</text>
<text x="196.6" y="807" class="t" textLength="50.2">21 Jul 00:00</text>
<text x="260.6" y="807" class="t" textLength="50.2">21 Jul 16:00</text>
<text x="324.6" y="807" class="t" textLength="50.2">22 Jul 08:00</text>
<text x="388.6" y="807" class="t" textLength="50.2">25 Jul 00:00</text>
<text x="452.6" y="807" class="t" textLength="50.2">25 Jul 16:00</text>
<text x="516.6" y="807" class="t" textLength="50.2">26 Jul 08:00</text>
<text x="580.6" y="807" class="t" textLength="50.2">27 Jul 00:00</text>
<text x="644.6" y="807" class="t" textLength="50.2">27 Jul 16:00</text>
<text x="708.6" y="807" class="t" textLength="50.2">28 Jul 08:00</text>
<text x="772.6" y="807" class="t" textLength="50.2">29 Jul 00:00</text>
<text x="836.6" y="807" class="t" textLength="50.2">29 Jul 16:00</text>
<text x="900.6" y="807" class="t" textLength="50.6">1 Aug 08:00</text>
<text x="964.6" y="807" class="t" textLength="50.6">2 Aug 00:00</text>
<text x="1028.6" y="807" class="t" textLength="50.6">2 Aug 16:00</text>
<text x="1092.6" y="807" class="t" textLength="50.6">3 Aug 08:00</text>
<text x="1156.6" y="807" class="t" textLength="50.6">4 Aug 00:00</text>
<text x="1220.6" y="807" class="t" textLength="50.6">4 Aug 16:00</text>
</svg>
</body></html>
